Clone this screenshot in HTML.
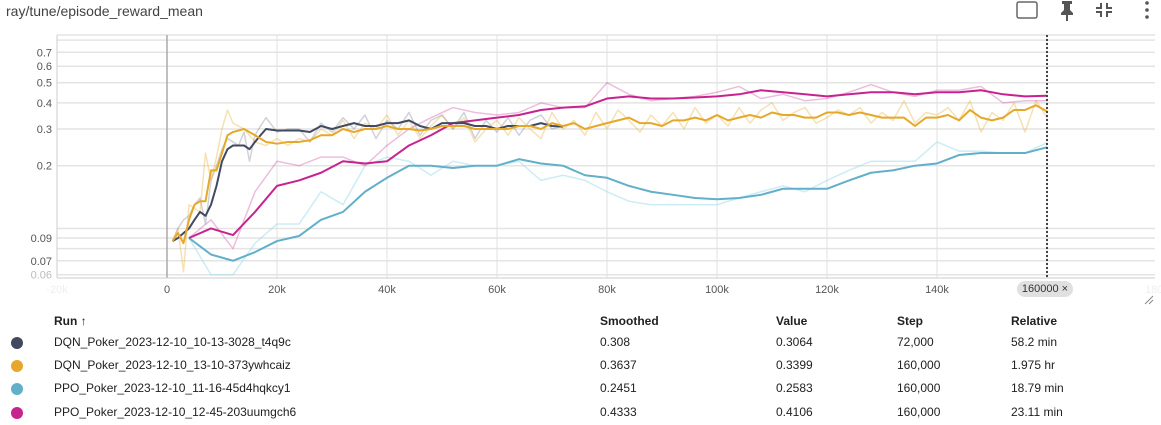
<!DOCTYPE html>
<html><head><meta charset="utf-8">
<style>
body{margin:0;width:1161px;height:425px;background:#fff;font-family:"Liberation Sans",sans-serif;overflow:hidden;position:relative;color:#212121}
.t{position:absolute;font-size:12px}
</style></head><body>
<div class="t" style="left:6px;top:3px;font-size:14px;color:#424242">ray/tune/episode_reward_mean</div>
<svg width="1161" height="425" style="position:absolute;left:0;top:0" id="svg">
<g>
<rect x="1017" y="2" width="20" height="16" rx="2" fill="none" stroke="#666" stroke-width="1.5"/>
<path d="M1062 1h10v3h-2v6l3 3v2h-5v6h-2v-6h-5v-2l3-3v-6h-2z" fill="#555"/>
<path d="M1101 3v5h-5M1107 3v5h5M1101 17v-5h-5M1107 17v-5h5" stroke="#555" stroke-width="2" fill="none"/>
<g fill="#555"><circle cx="1147" cy="3" r="1.8"/><circle cx="1147" cy="10" r="1.8"/><circle cx="1147" cy="17" r="1.8"/></g>
</g>
<g id="grid"></g><g id="plot"></g>
</svg>
<div class="t" style="left:1017px;top:281px;width:56px;height:16px;background:#e0e0e0;border-radius:8px;font-size:11px;line-height:16px;text-align:center;color:#333">160000 ×</div>
<div id="table"></div>
<script>
const xTicks=[-20,0,20,40,60,80,100,120,140,160,180];
const yTicks=[0.06,0.07,0.08,0.09,0.1,0.2,0.3,0.4,0.5,0.6,0.7,0.8];
const yLabels=["0.06","0.07","","0.09","","0.2","0.3","0.4","0.5","0.6","0.7",""];
const dqn1Steps=[1,2,3,4,5,6,7,8,9,10,11,12,13,14,15,16,17,18,20,22,24,26,28,30,32,34,36,38,40,42,44,46,48,50,52,54,56,58,60,62,64,66,68,70,72];
const dqn1Raw=[0.087,0.1,0.11,0.115,0.13,0.14,0.105,0.17,0.2,0.24,0.27,0.26,0.25,0.29,0.21,0.28,0.31,0.34,0.29,0.3,0.3,0.26,0.32,0.29,0.34,0.3,0.35,0.27,0.33,0.3,0.36,0.28,0.33,0.35,0.3,0.36,0.27,0.33,0.29,0.34,0.28,0.33,0.35,0.3,0.31];
const dqn1Smooth=[0.087,0.09,0.095,0.1,0.11,0.12,0.115,0.13,0.16,0.21,0.24,0.25,0.25,0.25,0.24,0.26,0.28,0.3,0.295,0.295,0.295,0.29,0.31,0.3,0.31,0.32,0.31,0.31,0.32,0.32,0.33,0.31,0.3,0.32,0.32,0.32,0.31,0.31,0.3,0.31,0.31,0.31,0.32,0.31,0.308];
const dqn2Steps=[1,2,3,4,5,6,7,8,9,10,11,12,14,16,18,20,22,24,26,28,30,32,34,36,38,40,42,44,46,48,50,52,54,56,58,60,62,64,66,68,70,72,74,76,78,80,82,84,86,88,90,92,94,96,98,100,102,104,106,108,110,112,114,116,118,120,122,124,126,128,130,132,134,136,138,140,142,144,146,148,150,152,154,156,158,160];
const dqn2Raw=[0.087,0.1,0.062,0.13,0.125,0.12,0.23,0.17,0.22,0.3,0.37,0.32,0.3,0.26,0.25,0.27,0.25,0.27,0.26,0.3,0.28,0.33,0.27,0.32,0.3,0.35,0.28,0.33,0.27,0.31,0.35,0.3,0.34,0.26,0.3,0.33,0.28,0.34,0.3,0.27,0.36,0.3,0.33,0.28,0.36,0.3,0.37,0.33,0.29,0.35,0.31,0.36,0.3,0.38,0.32,0.35,0.31,0.38,0.32,0.37,0.4,0.33,0.36,0.38,0.32,0.34,0.37,0.35,0.38,0.32,0.36,0.33,0.41,0.32,0.36,0.35,0.38,0.33,0.41,0.29,0.36,0.33,0.4,0.29,0.41,0.34];
const dqn2Smooth=[0.087,0.095,0.085,0.11,0.13,0.135,0.135,0.19,0.19,0.23,0.28,0.29,0.3,0.28,0.26,0.255,0.26,0.26,0.265,0.28,0.28,0.3,0.29,0.3,0.3,0.31,0.3,0.3,0.295,0.3,0.31,0.31,0.31,0.3,0.3,0.3,0.3,0.31,0.31,0.3,0.32,0.31,0.32,0.3,0.31,0.32,0.33,0.34,0.32,0.32,0.31,0.33,0.33,0.34,0.33,0.35,0.33,0.34,0.35,0.34,0.36,0.35,0.35,0.34,0.34,0.36,0.36,0.35,0.36,0.35,0.34,0.34,0.34,0.31,0.34,0.34,0.35,0.33,0.37,0.34,0.33,0.34,0.37,0.37,0.39,0.364];
const ppoSteps=[4,8,12,16,20,24,28,32,36,40,44,48,52,56,60,64,68,72,76,80,84,88,92,96,100,104,108,112,116,120,124,128,132,136,140,144,148,152,156,160];
const ppo1Raw=[0.09,0.06,0.06,0.085,0.105,0.105,0.15,0.13,0.2,0.22,0.21,0.18,0.21,0.2,0.2,0.21,0.17,0.18,0.17,0.15,0.135,0.13,0.13,0.13,0.13,0.14,0.15,0.16,0.15,0.17,0.19,0.21,0.21,0.21,0.26,0.235,0.235,0.23,0.23,0.258];
const ppo1Smooth=[0.09,0.075,0.07,0.077,0.087,0.092,0.11,0.12,0.15,0.175,0.2,0.2,0.195,0.2,0.2,0.215,0.205,0.2,0.18,0.175,0.16,0.15,0.145,0.14,0.138,0.14,0.145,0.155,0.155,0.155,0.17,0.185,0.19,0.2,0.205,0.225,0.23,0.23,0.23,0.245];
const ppo2Raw=[0.09,0.11,0.08,0.15,0.21,0.2,0.22,0.22,0.2,0.25,0.3,0.34,0.38,0.36,0.35,0.36,0.4,0.38,0.38,0.5,0.44,0.41,0.42,0.43,0.45,0.48,0.42,0.44,0.41,0.42,0.45,0.49,0.45,0.43,0.46,0.46,0.48,0.4,0.41,0.41];
const ppo2Smooth=[0.09,0.1,0.093,0.12,0.16,0.17,0.185,0.21,0.205,0.21,0.25,0.28,0.32,0.33,0.34,0.35,0.37,0.38,0.385,0.42,0.43,0.42,0.42,0.425,0.43,0.44,0.46,0.45,0.44,0.43,0.44,0.45,0.45,0.44,0.45,0.45,0.46,0.44,0.43,0.433];
const runNames=["DQN_Poker_2023-12-10_10-13-3028_t4q9c","DQN_Poker_2023-12-10_13-10-373ywhcaiz","PPO_Poker_2023-12-10_11-16-45d4hqkcy1","PPO_Poker_2023-12-10_12-45-203uumgch6"];
const smoothedVals=["0.308","0.3637","0.2451","0.4333"];
const lastVals=["0.3064","0.3399","0.2583","0.4106"];
const stepVals=["72,000","160,000","160,000","160,000"];
const relVals=["58.2 min","1.975 hr","18.79 min","23.11 min"];

const NS="http://www.w3.org/2000/svg";
const X0=167,PXK=5.5,Y09=238,PD=208.5,TOP=35,BOT=278,LEFT=57,RIGHT=1155;
const xs=k=>X0+k*PXK;
const ys=v=>Y09-PD*Math.log10(v/0.09);
function mk(tag,at,parent){const e=document.createElementNS(NS,tag);for(const k in at)e.setAttribute(k,at[k]);parent.appendChild(e);return e;}
const grid=document.getElementById('grid'),plot=document.getElementById('plot');
yTicks.forEach((v,i)=>{
 const l=mk('line',{x1:LEFT,x2:RIGHT,y1:ys(v),y2:ys(v),stroke:'#e4e4e4','stroke-width':1.5},grid);
 
 
 if(yLabels[i]){const t=mk('text',{x:52,y:ys(v)+4,'text-anchor':'end','font-size':11,fill:v<0.065?'#bbb':'#555'},grid);t.textContent=yLabels[i];
 
 }
});
mk('line',{x1:LEFT,x2:RIGHT,y1:TOP,y2:TOP,stroke:'#e4e4e4','stroke-width':1.5},grid);
xTicks.forEach(k=>{
 const x=xs(k);
 if(x>LEFT&&x<RIGHT){const l=mk('line',{x1:x,x2:x,y1:TOP,y2:BOT,stroke:k===0?'#aaa':'#e0e0e0','stroke-width':k===0?1.5:1},grid);
 
 }
 const t=mk('text',{x:x,y:293,'text-anchor':'middle','font-size':11,fill:(k<0||k>160)?'#eee':'#555'},grid);
 t.textContent=k===0?'0':k+'k';
 
 
});
mk('line',{x1:LEFT,x2:RIGHT,y1:BOT,y2:BOT,stroke:'#ccc','stroke-width':1},grid);
mk('line',{x1:LEFT,x2:LEFT,y1:TOP,y2:BOT,stroke:'#ccc','stroke-width':1},grid);
function line(steps,vals,color,w,op,name){
 const p=mk('polyline',{points:steps.map((s,i)=>xs(s)+','+ys(vals[i])).join(' '),fill:'none',stroke:color,'stroke-width':w,opacity:op,'stroke-linejoin':'round'},plot);
 
 
}
const C=['#424a62','#e5a82a','#62afc9','#c7238f'];
line(dqn1Steps,dqn1Raw,C[0],1.5,0.25,'dqn1-raw-line');
line(dqn2Steps,dqn2Raw,C[1],1.5,0.35,'dqn2-raw-line');
line(ppoSteps,ppo1Raw,'#9adcec',1.5,0.5,'ppo1-raw-line');
line(ppoSteps,ppo2Raw,C[3],1.5,0.3,'ppo2-raw-line');
line(ppoSteps,ppo1Smooth,C[2],2,1,'ppo1-smoothed-line');
line(ppoSteps,ppo2Smooth,C[3],2,1,'ppo2-smoothed-line');
line(dqn1Steps,dqn1Smooth,C[0],2,1,'dqn1-smoothed-line');
line(dqn2Steps,dqn2Smooth,C[1],2,1,'dqn2-smoothed-line');
const cur=mk('line',{x1:xs(160),x2:xs(160),y1:TOP,y2:BOT,stroke:'#444','stroke-width':2,'stroke-dasharray':'2,2'},plot);


mk('path',{d:'M1145 304l8-8M1149 304l4-4',stroke:'#888','stroke-width':1},plot);

const tb=document.getElementById('table');
function cell(txt,x,y,bold,name){const d=document.createElement('div');d.className='t';d.style.left=x+'px';d.style.top=(y-7)+'px';if(bold)d.style.fontWeight='bold';d.textContent=txt;
 
 
 tb.appendChild(d);}
cell('Run ↑',54,321,true,'run-header');
cell('Smoothed',600,321,true,'smoothed-header');
cell('Value',776,321,true,'value-header');
cell('Step',897,321,true,'step-header');
cell('Relative',1011,321,true,'relative-header');
const rowY=[342,365,388,412];
runNames.forEach((n,i)=>{
 const dot=document.createElement('div');dot.className='t';
 dot.style.cssText=`left:11px;top:${rowY[i]-5}px;width:12px;height:12px;border-radius:6px;background:${C[i]}`;
 
 
 tb.appendChild(dot);
 cell(n,54,rowY[i],false,'run-name');
 cell(smoothedVals[i],600,rowY[i],false,'smoothed-value');
 cell(lastVals[i],776,rowY[i],false,'value');
 cell(stepVals[i],897,rowY[i],false,'step');
 cell(relVals[i],1011,rowY[i],false,'relative-time');
});
</script>
</body></html>
